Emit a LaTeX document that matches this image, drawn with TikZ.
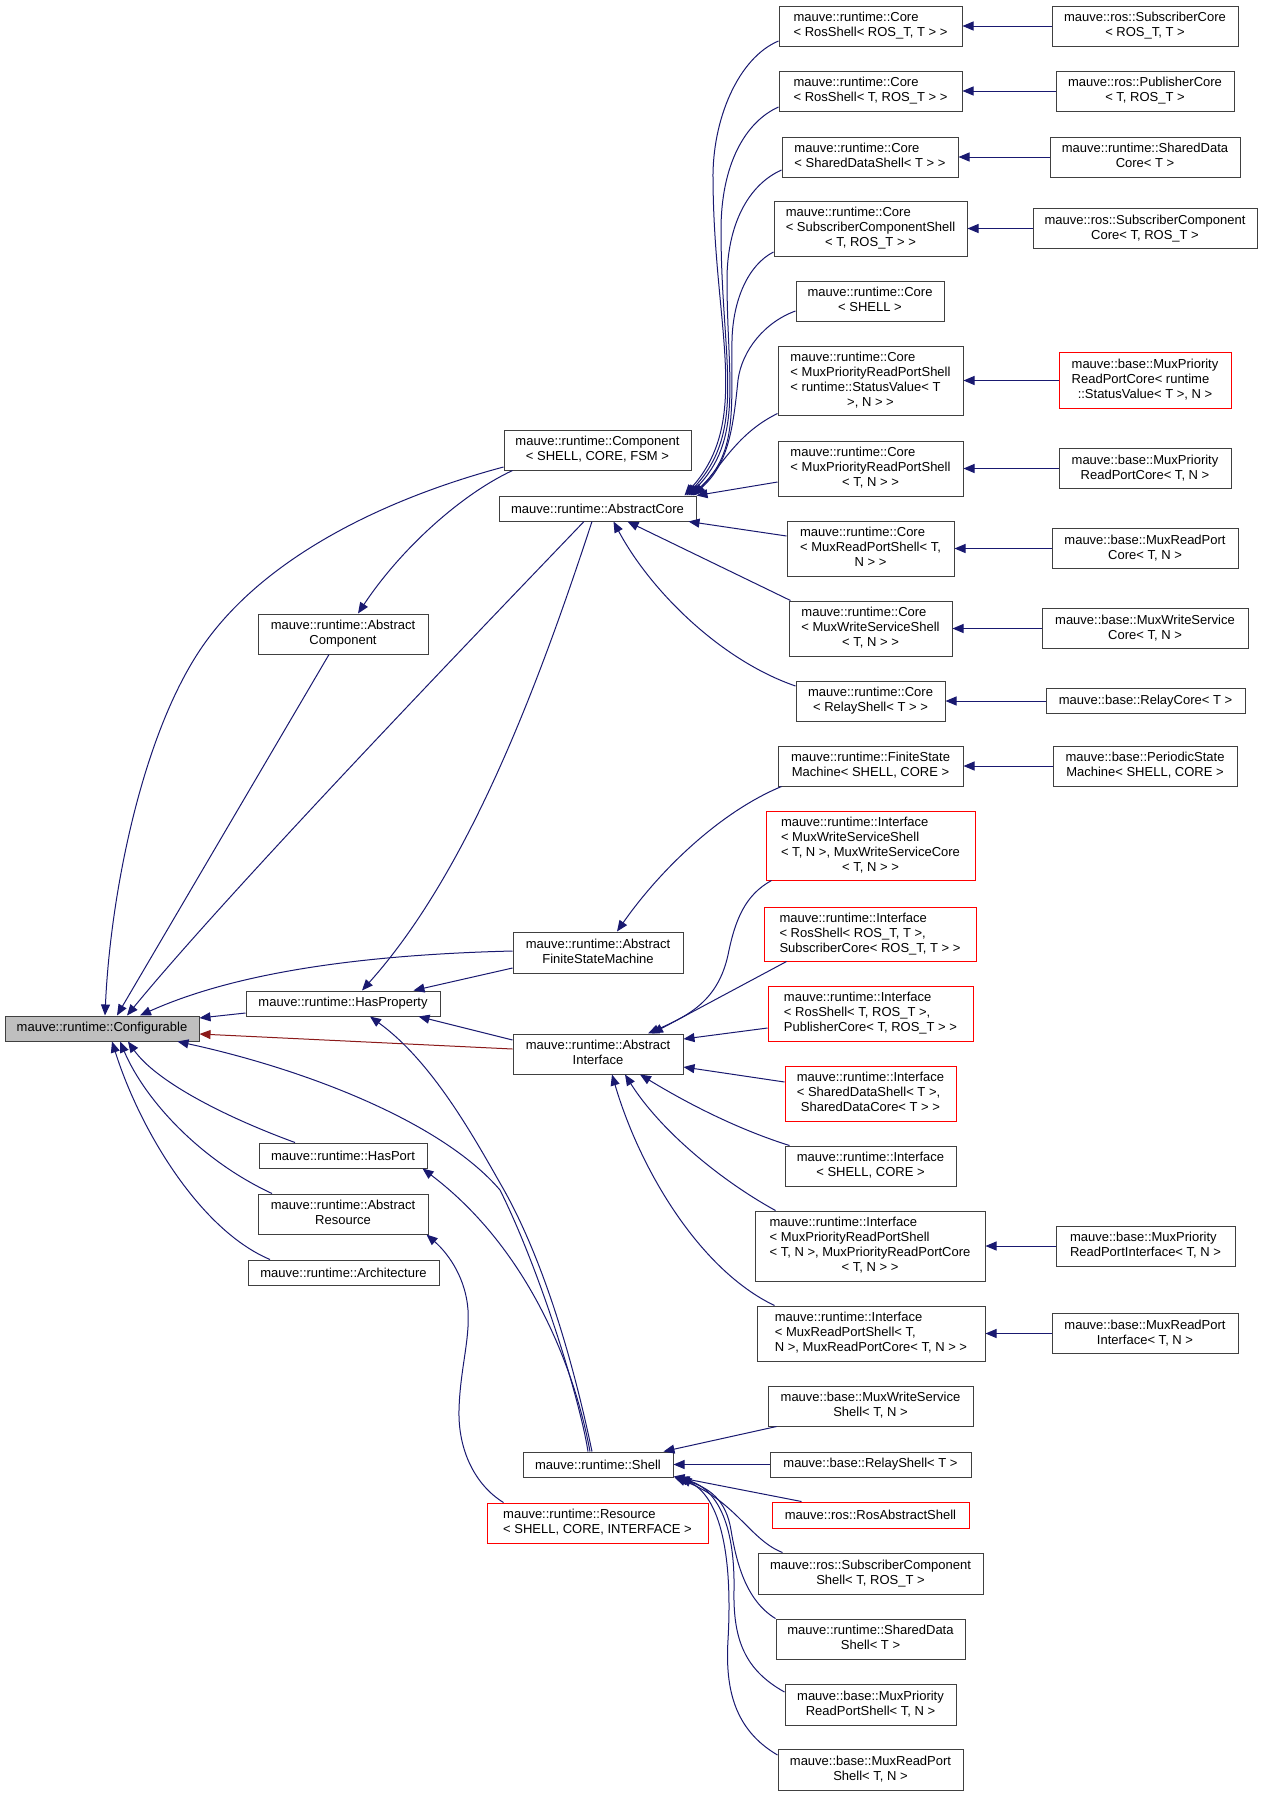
\documentclass[tikz,border=0pt]{standalone}
\usepackage{fontspec}
\setmainfont{Liberation Sans}
\usetikzlibrary{arrows.meta}
\definecolor{edgeblue}{HTML}{191970}
\definecolor{edgered}{HTML}{8B1A1A}
\definecolor{boxline}{HTML}{404040}
\definecolor{rootfill}{HTML}{BFBFBF}
\newcommand{\lbl}[2]{\begin{tabular}{@{}l@{}}#1\\\multicolumn{1}{@{}c@{}}{#2}\end{tabular}}
\begin{document}
\begin{tikzpicture}[x=1pt,y=-1pt,
  box/.style={draw=boxline, line width=1pt, rectangle, inner sep=0pt,
    font=\fontsize{13}{15}\selectfont, align=center},
  rbox/.style={box, draw=red},
  wh/.style 2 args={minimum width=#1, minimum height=#2},
  e/.style={draw=edgeblue, line width=1pt, -{Triangle[length=11pt,width=9pt]}},
  er/.style={draw=edgered, line width=1pt, -{Triangle[length=11pt,width=9pt]}}]
\fill[white] (0,0) rectangle (1263,1796);
\useasboundingbox (0,0) rectangle (1263,1796);
% ---------------- left column
\node[box, wh={194}{25}, fill=rootfill] (conf) at (102,1028.5) {mauve::runtime::Configurable};
\node[box, wh={187}{40}] (comp) at (597.5,450) {\lbl{mauve::runtime::Component}{< SHELL, CORE, FSM >}};
\node[box, wh={170}{40}] (acomp) at (343,634) {\lbl{mauve::runtime::Abstract}{Component}};
\node[box, wh={197}{25}] (acore) at (597.5,508.5) {mauve::runtime::AbstractCore};
\node[box, wh={194}{25}] (hprop) at (343,1003.5) {mauve::runtime::HasProperty};
\node[box, wh={170}{41}] (afsm) at (598,952.5) {\lbl{mauve::runtime::Abstract}{FiniteStateMachine}};
\node[box, wh={170}{40}] (aif) at (598,1054) {\lbl{mauve::runtime::Abstract}{Interface}};
\node[box, wh={168}{25}] (hport) at (343,1155.5) {mauve::runtime::HasPort};
\node[box, wh={170}{40}] (ares) at (343,1214) {\lbl{mauve::runtime::Abstract}{Resource}};
\node[box, wh={191}{25}] (arch) at (343.5,1272.5) {mauve::runtime::Architecture};
\node[box, wh={150}{25}] (shell) at (598,1464.5) {mauve::runtime::Shell};
\node[rbox, wh={221}{40}] (res) at (597.5,1523) {\lbl{mauve::runtime::Resource}{< SHELL, CORE, INTERFACE >}};
% ---------------- middle column
\node[box, wh={183}{40}] (cA) at (870.5,26) {\lbl{mauve::runtime::Core}{< RosShell< ROS\_T, T > >}};
\node[box, wh={183}{40}] (cB) at (870.5,91) {\lbl{mauve::runtime::Core}{< RosShell< T, ROS\_T > >}};
\node[box, wh={176}{40}] (cC) at (870,157) {\lbl{mauve::runtime::Core}{< SharedDataShell< T > >}};
\node[box, wh={193}{55}] (cD) at (870.5,228.5) {\lbl{mauve::runtime::Core\\< SubscriberComponentShell}{< T, ROS\_T > >}};
\node[box, wh={148}{40}] (cE) at (870,301) {\lbl{mauve::runtime::Core}{< SHELL >}};
\node[box, wh={185}{69}] (cF) at (870.5,380.5) {\lbl{mauve::runtime::Core\\< MuxPriorityReadPortShell\\< runtime::StatusValue< T}{>, N > >}};
\node[box, wh={185}{55}] (cG) at (870.5,468.5) {\lbl{mauve::runtime::Core\\< MuxPriorityReadPortShell}{< T, N > >}};
\node[box, wh={167}{55}] (cH) at (870.5,548.5) {\lbl{mauve::runtime::Core\\< MuxReadPortShell< T,}{N > >}};
\node[box, wh={163}{55}] (cI) at (870.5,628.5) {\lbl{mauve::runtime::Core\\< MuxWriteServiceShell}{< T, N > >}};
\node[box, wh={149}{40}] (cJ) at (870.5,701) {\lbl{mauve::runtime::Core}{< RelayShell< T > >}};
\node[box, wh={185}{40}] (fsm) at (870.5,766) {\lbl{mauve::runtime::FiniteState}{Machine< SHELL, CORE >}};
\node[rbox, wh={209}{69}] (iA) at (870.5,845.5) {\lbl{mauve::runtime::Interface\\< MuxWriteServiceShell\\< T, N >, MuxWriteServiceCore}{< T, N > >}};
\node[rbox, wh={212}{54}] (iB) at (870,934) {\lbl{mauve::runtime::Interface\\< RosShell< ROS\_T, T >,}{SubscriberCore< ROS\_T, T > >}};
\node[rbox, wh={205}{55}] (iC) at (870.5,1013.5) {\lbl{mauve::runtime::Interface\\< RosShell< T, ROS\_T >,}{PublisherCore< T, ROS\_T > >}};
\node[rbox, wh={171}{55}] (iD) at (870.5,1093.5) {\lbl{mauve::runtime::Interface\\< SharedDataShell< T >,}{SharedDataCore< T > >}};
\node[box, wh={171}{40}] (iE) at (870.5,1166) {\lbl{mauve::runtime::Interface}{< SHELL, CORE >}};
\node[box, wh={230}{70}] (iF) at (870,1246) {\lbl{mauve::runtime::Interface\\< MuxPriorityReadPortShell\\< T, N >, MuxPriorityReadPortCore}{< T, N > >}};
\node[box, wh={228}{55}] (iG) at (871,1333.5) {\lbl{mauve::runtime::Interface\\< MuxReadPortShell< T,}{N >, MuxReadPortCore< T, N > >}};
\node[box, wh={205}{40}] (sA) at (870.5,1406) {\lbl{mauve::base::MuxWriteService}{Shell< T, N >}};
\node[box, wh={201}{25}] (sB) at (870.5,1464.5) {mauve::base::RelayShell< T >};
\node[rbox, wh={197}{26}] (sC) at (870.5,1515) {mauve::ros::RosAbstractShell};
\node[box, wh={225}{41}] (sD) at (870.5,1573.5) {\lbl{mauve::ros::SubscriberComponent}{Shell< T, ROS\_T >}};
\node[box, wh={189}{40}] (sE) at (870.5,1639) {\lbl{mauve::runtime::SharedData}{Shell< T >}};
\node[box, wh={171}{41}] (sF) at (870.5,1704.5) {\lbl{mauve::base::MuxPriority}{ReadPortShell< T, N >}};
\node[box, wh={185}{41}] (sG) at (870.5,1769.5) {\lbl{mauve::base::MuxReadPort}{Shell< T, N >}};
% ---------------- right column
\node[box, wh={186}{40}] (rA) at (1145,26) {\lbl{mauve::ros::SubscriberCore}{< ROS\_T, T >}};
\node[box, wh={178}{40}] (rB) at (1145,91) {\lbl{mauve::ros::PublisherCore}{< T, ROS\_T >}};
\node[box, wh={190}{40}] (rC) at (1145,157) {\lbl{mauve::runtime::SharedData}{Core< T >}};
\node[box, wh={224}{40}] (rD) at (1145,228.5) {\lbl{mauve::ros::SubscriberComponent}{Core< T, ROS\_T >}};
\node[rbox, wh={172}{56}] (rF) at (1145,380.5) {\lbl{mauve::base::MuxPriority\\ReadPortCore< runtime}{::StatusValue< T >, N >}};
\node[box, wh={172}{40}] (rG) at (1145,468.5) {\lbl{mauve::base::MuxPriority}{ReadPortCore< T, N >}};
\node[box, wh={186}{40}] (rH) at (1145,548.5) {\lbl{mauve::base::MuxReadPort}{Core< T, N >}};
\node[box, wh={206}{40}] (rI) at (1145,628.5) {\lbl{mauve::base::MuxWriteService}{Core< T, N >}};
\node[box, wh={199}{25}] (rJ) at (1145.5,701) {mauve::base::RelayCore< T >};
\node[box, wh={184}{40}] (rK) at (1145,766) {\lbl{mauve::base::PeriodicState}{Machine< SHELL, CORE >}};
\node[box, wh={179}{40}] (rL) at (1145.5,1246) {\lbl{mauve::base::MuxPriority}{ReadPortInterface< T, N >}};
\node[box, wh={186}{40}] (rM) at (1145,1333.5) {\lbl{mauve::base::MuxReadPort}{Interface< T, N >}};
% ---------------- right-column edges
\draw[e] (rA.west) -- (cA.east);
\draw[e] (rB.west) -- (cB.east);
\draw[e] (rC.west) -- (cC.east);
\draw[e] (rD.west) -- (cD.east);
\draw[e] (rF.west) -- (cF.east);
\draw[e] (rG.west) -- (cG.east);
\draw[e] (rH.west) -- (cH.east);
\draw[e] (rI.west) -- (cI.east);
\draw[e] (rJ.west) -- (cJ.east);
\draw[e] (rK.west) -- (fsm.east);
\draw[e] (rL.west) -- (iF.east);
\draw[e] (rM.west) -- (iG.east);
% ---------------- Core -> AbstractCore
\draw[e] ([yshift=-15pt]cA.west) .. controls (738,58) and (712,120) .. (713,180) .. controls (714,330) and (752,420) .. ([xshift=-12pt]acore.north east);
\draw[e] ([yshift=-16pt]cB.west) .. controls (745,122) and (721,165) .. (721,230) .. controls (721,360) and (748,430) .. ([xshift=-10pt]acore.north east);
\draw[e] ([yshift=-13pt]cC.west) .. controls (748,185) and (727,225) .. (727,280) .. controls (727,380) and (744,440) .. ([xshift=-8pt]acore.north east);
\draw[e] ([yshift=-23.5pt]cD.west) .. controls (748,265) and (733,300) .. (732,340) .. controls (731,410) and (738,455) .. ([xshift=-6pt]acore.north east);
\draw[e] ([yshift=-10pt]cE.west) .. controls (765,322) and (742,350) .. (738,380) .. controls (733,430) and (728,465) .. ([xshift=-4pt]acore.north east);
\draw[e] ([yshift=2pt]cF.south west) .. controls (740,432) and (725,460) .. ([xshift=-2pt]acore.north east);
\draw[e] ([yshift=-13.5pt]cG.west) -- (acore.north east);
\draw[e] ([yshift=12.5pt]cH.west) -- ([xshift=-8pt]acore.south east);
\draw[e] ([xshift=2pt]cI.north west) -- ([xshift=-69pt]acore.south east);
\draw[e] ([yshift=15pt]cJ.west) .. controls (720,660) and (650,590) .. ([xshift=-83pt]acore.south east);
% ---------------- to Configurable / HasProperty etc.
\draw[e] ([yshift=-17pt]comp.west) .. controls (380,500) and (260,560) .. (200,650) .. controls (140,740) and (110,900) .. ([xshift=3pt]conf.north);
\draw[e] ([xshift=9pt]comp.south west) .. controls (460,495) and (400,550) .. ([xshift=15pt]acomp.north);
\draw[e] ([xshift=-14pt]acomp.south) -- ([xshift=15pt]conf.north);
\draw[e] ([xshift=-13.5pt]acore.south) .. controls (480,630) and (230,890) .. ([xshift=25pt]conf.north);
\draw[e] ([xshift=-5.5pt]acore.south) .. controls (540,680) and (470,870) .. ([xshift=19pt]hprop.north);
\draw[e] ([yshift=1.5pt]afsm.west) .. controls (350,955) and (230,975) .. ([xshift=38pt]conf.north);
\draw[e] ([yshift=-15.5pt]afsm.west) -- ([xshift=-27pt]hprop.north east);
\draw[e] ([yshift=-9.5pt]hprop.west) -- ([yshift=10.5pt]conf.east);
\draw[e] ([yshift=14pt]aif.west) -- ([xshift=-22pt]hprop.south east);
\draw[er] ([yshift=5pt]aif.west) -- ([yshift=-5.5pt]conf.east);
\draw[e] ([xshift=-48pt]hport.north) .. controls (220,1115) and (155,1080) .. ([xshift=26pt]conf.south);
\draw[e] ([xshift=-71pt]ares.north) .. controls (200,1160) and (145,1100) .. ([xshift=18pt]conf.south);
\draw[e] ([xshift=-73.5pt]arch.north) .. controls (200,1230) and (140,1130) .. ([xshift=10pt]conf.south);
\draw[e] ([xshift=-10pt]shell.north) .. controls (580,1400) and (540,1270) .. (500,1190) .. controls (440,1120) and (300,1068) .. ([xshift=-22pt]conf.south east);
\draw[e] ([xshift=-6pt]shell.north) .. controls (575,1370) and (545,1260) .. (500,1183) .. controls (470,1130) and (430,1060) .. ([xshift=27pt]hprop.south);
\draw[e] ([xshift=-8pt]shell.north) .. controls (575,1370) and (530,1250) .. ([xshift=-5pt]hport.south east);
\draw[e] ([xshift=17pt]res.north west) .. controls (475,1485) and (458,1450) .. (459,1410) .. controls (460,1370) and (470,1340) .. (468,1310) .. controls (466,1280) and (450,1255) .. ([xshift=-2pt]ares.south east);
% ---------------- FSM / Interfaces
\draw[e] ([xshift=4pt]fsm.south west) .. controls (720,812) and (660,870) .. ([xshift=19pt]afsm.north);
\draw[e] ([xshift=6pt]iA.south west) .. controls (745,895) and (735,920) .. (728,955) .. controls (718,1000) and (690,1015) .. ([xshift=50pt]aif.north);
\draw[e] ([xshift=23pt]iB.south west) -- ([xshift=54pt]aif.north);
\draw[e] ([yshift=-14.5pt]iC.west) -- ([yshift=15pt]aif.east);
\draw[e] ([yshift=11.5pt]iD.west) -- ([yshift=-13pt]aif.east);
\draw[e] ([xshift=5pt]iE.north west) .. controls (740,1130) and (690,1105) .. ([xshift=42pt]aif.south);
\draw[e] ([xshift=21pt]iF.north west) .. controls (720,1180) and (660,1130) .. ([xshift=27pt]aif.south);
\draw[e] ([xshift=18pt]iG.north west) .. controls (700,1270) and (640,1170) .. ([xshift=14pt]aif.south);
% ---------------- Shell children
\draw[e] ([xshift=9pt]sA.south west) -- ([xshift=-10pt]shell.north east);
\draw[e] (sB.west) -- (shell.east);
\draw[e] ([xshift=30pt]sC.north west) -- ([yshift=1pt]shell.south east);
\draw[e] ([xshift=25pt]sD.north west) .. controls (750,1540) and (735,1500) .. ([xshift=1pt]shell.south east);
\draw[e] (sE.north west) .. controls (745,1600) and (736,1560) .. (731,1530) .. controls (726,1500) and (710,1488) .. ([xshift=3pt]shell.south east);
\draw[e] ([yshift=12.5pt]sF.west) .. controls (745,1670) and (733,1640) .. (734,1590) .. controls (735,1530) and (720,1490) .. ([xshift=5pt]shell.south east);
\draw[e] ([yshift=14.5pt]sG.west) .. controls (735,1730) and (725,1690) .. (728,1640) .. controls (732,1570) and (725,1500) .. ([xshift=7pt]shell.south east);
\end{tikzpicture}
\end{document}
